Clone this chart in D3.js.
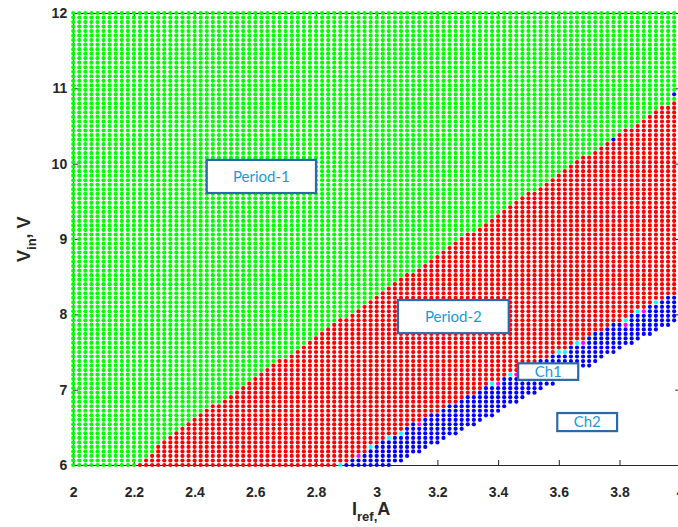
<!DOCTYPE html>
<html>
<head>
<meta charset="utf-8">
<script src="https://cdn.jsdelivr.net/npm/d3@7"></script>
<style>
  html, body { margin: 0; padding: 0; background: #fff; }
  svg { display: block; }
</style>
</head>
<body>
<svg id="chart" width="678" height="527"></svg>
<script>
// Operating-region map of the converter: I_ref (A) against V_in (V)
const irefTicks = [2, 2.2, 2.4, 2.6, 2.8, 3, 3.2, 3.4, 3.6, 3.8, 4];
const vinTicks = [6, 7, 8, 9, 10, 11, 12];

// Sampling grid of the sweep
const irefStart = 2, irefStep = 0.02, irefCount = 101;
const vinStart = 6, vinStep = 0.06, vinCount = 101;

// Boundary between period-1 (above) and period-2 (below)
const p1Iref = [2.0, 2.21, 2.34, 3.04, 3.70, 4.0];
const p1Vin  = [5.2, 6.0, 6.46, 8.36, 10.14, 10.90];

// Boundary between period-2 (above) and the first chaotic band (below)
const ch1Iref = [2.80, 2.89, 3.11, 3.63, 4.0];
const ch1Vin  = [5.78, 6.0, 6.53, 7.57, 8.30];

// Lower edge of the first chaotic band (no points computed below it)
const ch2Iref = [3.05, 3.40, 4.0];
const ch2Vin  = [6.0, 6.70, 7.94];

// Isolated points of other orbit types along the band edges
const cyanPts = [[2.88, 6.00], [2.98, 6.24], [3.04, 6.36], [3.08, 6.42], [3.38, 7.08],
                 [3.44, 7.20], [3.60, 7.50], [3.62, 7.50], [3.66, 7.62], [3.82, 7.92],
                 [3.86, 8.04], [3.92, 8.16]];
const magentaPts = [[2.94, 6.12], [3.14, 6.54], [3.40, 7.08], [3.46, 7.20], [3.68, 7.62],
                    [3.82, 7.86], [3.88, 8.04]];
const bluePts = [[3.98, 10.92], [3.78, 10.32]];

// Text annotations: [label, iref0, vin0 (top), iref1, vin1 (bottom)]
const labels = [
  ["Period-1", 2.44, 10.05, 2.80, 9.61],
  ["Period-2", 3.07, 8.19, 3.435, 7.75],
  ["Ch1", 3.466, 7.35, 3.664, 7.13],
  ["Ch2", 3.595, 6.69, 3.792, 6.45]
];

const colors = { p1: "#00ff00", p2: "#ff0000", ch: "#0000ff", cyan: "#00ffff", magenta: "#ff00ff" };

const svg = d3.select("#chart");
const plotLeft = 73.2, plotRight = 680.2, plotTop = 13, plotBottom = 465;

const x = d3.scaleLinear().domain([2, 4]).range([plotLeft, plotRight]);
const y = d3.scaleLinear().domain([6, 12]).range([plotBottom, plotTop]);

const p1 = d3.scaleLinear().domain(p1Iref).range(p1Vin);
const ch1 = d3.scaleLinear().domain(ch1Iref).range(ch1Vin);
const ch2 = d3.scaleLinear().domain(ch2Iref).range(ch2Vin);

const key = (a, b) => Math.round(a * 100) + "_" + Math.round(b * 100);
const special = new Map();
cyanPts.forEach(p => special.set(key(p[0], p[1]), colors.cyan));
magentaPts.forEach(p => special.set(key(p[0], p[1]), colors.magenta));
bluePts.forEach(p => special.set(key(p[0], p[1]), colors.ch));

const pts = [];
for (let i = 0; i < irefCount; i++) {
  const ir = +(irefStart + i * irefStep).toFixed(2);
  for (let j = 0; j < vinCount; j++) {
    const v = +(vinStart + j * vinStep).toFixed(2);
    let c = null;
    if (v >= p1(ir) - 1e-9) c = colors.p1;
    else if (ir < ch1Iref[1] || v >= ch1(ir) - 1e-9) c = colors.p2;
    else if (ir < ch2Iref[0] || v >= ch2(ir) - 1e-9) c = colors.ch;
    const s = special.get(key(ir, v));
    if (s) c = s;
    if (c) pts.push({ ir, v, c });
  }
}

// Axes frame with inward ticks
const axisColor = "#262626";
const fmt = d => (Number.isInteger(d) ? String(d) : d.toFixed(1));

function styleAxis(g) {
  g.selectAll("path.domain").attr("stroke", axisColor).attr("stroke-width", 1);
  g.selectAll(".tick line").attr("stroke", axisColor).attr("stroke-width", 1);
  g.selectAll("text").attr("fill", axisColor)
    .attr("font-family", "'Liberation Sans', Arial, sans-serif")
    .attr("font-size", 14).attr("font-weight", "bold");
}

svg.append("g").attr("transform", `translate(0,${plotBottom})`)
  .call(d3.axisBottom(x).tickValues(irefTicks).tickFormat(fmt).tickSizeInner(-5).tickSizeOuter(0).tickPadding(22))
  .call(styleAxis);
svg.append("g").attr("transform", `translate(0,${plotTop})`)
  .call(d3.axisTop(x).tickValues(irefTicks).tickFormat("").tickSizeInner(-5).tickSizeOuter(0))
  .call(styleAxis);
svg.append("g").attr("transform", `translate(${plotLeft},0)`)
  .call(d3.axisLeft(y).tickValues(vinTicks).tickFormat(fmt).tickSizeInner(-5).tickSizeOuter(0).tickPadding(6))
  .call(styleAxis);
svg.append("g").attr("transform", `translate(${plotRight},0)`)
  .call(d3.axisRight(y).tickValues(vinTicks).tickFormat("").tickSizeInner(-5).tickSizeOuter(0))
  .call(styleAxis);

// Sweep points
svg.append("g").selectAll("circle").data(pts).join("circle")
  .attr("cx", d => x(d.ir)).attr("cy", d => y(d.v))
  .attr("r", 2.1).attr("fill", d => d.c);

// Region annotations
const ann = svg.append("g").selectAll("g").data(labels).join("g");
ann.append("rect")
  .attr("x", d => x(d[1])).attr("y", d => y(d[2]))
  .attr("width", d => x(d[3]) - x(d[1])).attr("height", d => y(d[4]) - y(d[2]))
  .attr("fill", "#fff").attr("stroke", "#2b6aa8").attr("stroke-width", 2.2);
ann.append("text")
  .attr("x", d => (x(d[1]) + x(d[3])) / 2).attr("y", d => (y(d[2]) + y(d[4])) / 2)
  .attr("dy", "0.35em").attr("text-anchor", "middle")
  .attr("font-family", "Lato, 'Open Sans', sans-serif").attr("font-size", 15)
  .attr("fill", "#1c9ad6").text(d => d[0]);

// Axis titles
const xt = svg.append("text").attr("x", 352).attr("y", 515)
  .attr("font-family", "'Liberation Sans', Arial, sans-serif").attr("font-weight", "bold")
  .attr("font-size", 18).attr("fill", axisColor);
xt.append("tspan").text("I");
xt.append("tspan").attr("font-size", 13).attr("dy", 6).text("ref,");
xt.append("tspan").attr("dy", -6).text("A");

const yt = svg.append("text").attr("transform", "translate(30,262) rotate(-90)")
  .attr("font-family", "'Liberation Sans', Arial, sans-serif").attr("font-weight", "bold")
  .attr("font-size", 18).attr("fill", axisColor);
yt.append("tspan").text("V");
yt.append("tspan").attr("font-size", 13).attr("dy", 6).text("in");
yt.append("tspan").attr("dy", -6).text(", V");
</script>
</body>
</html>
